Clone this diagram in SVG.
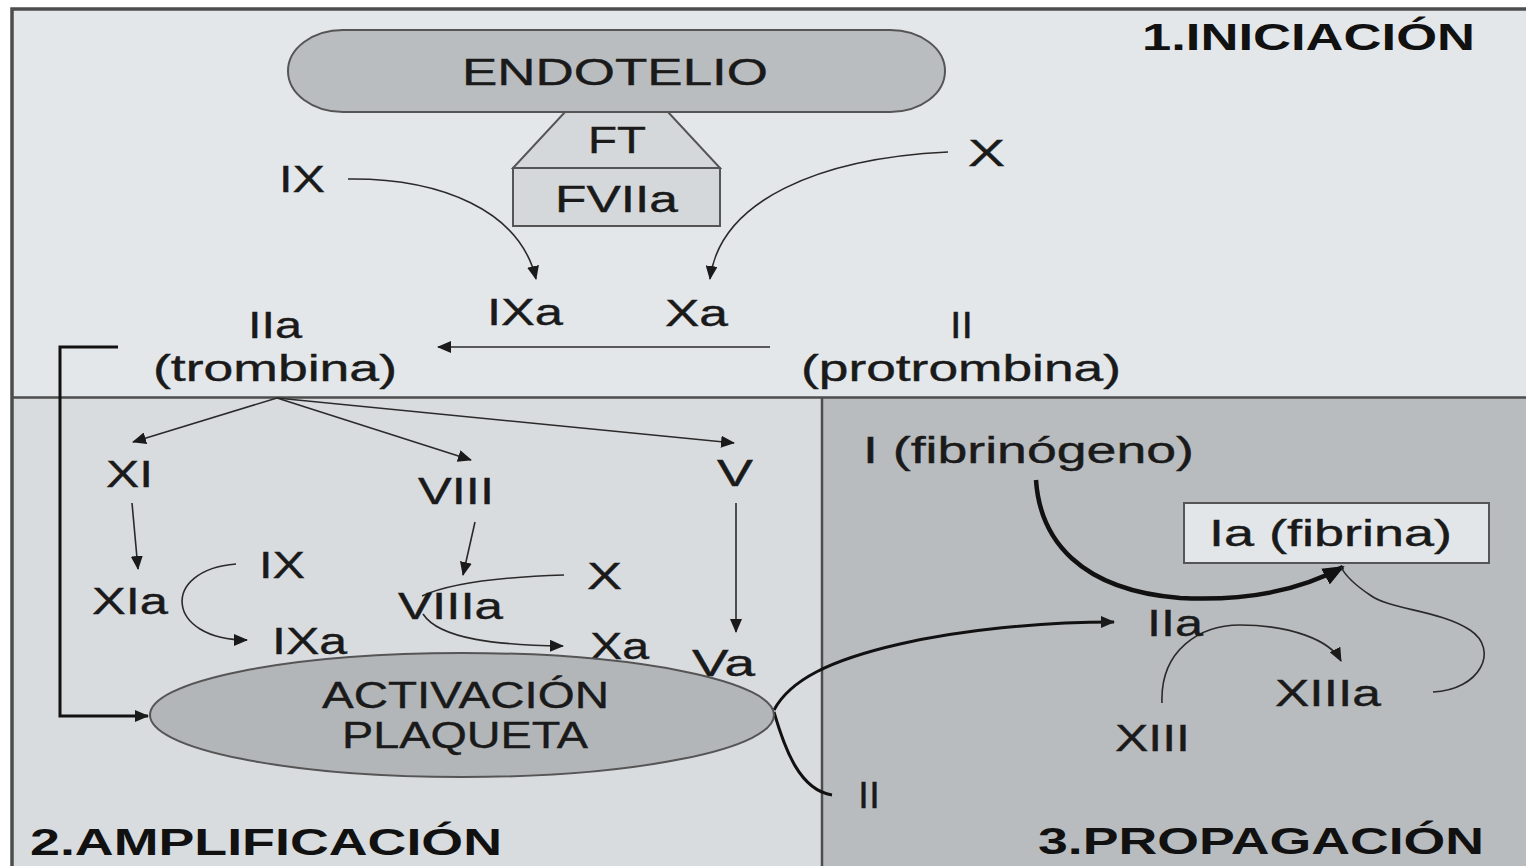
<svg xmlns="http://www.w3.org/2000/svg" width="1526" height="866" viewBox="0 0 1526 866">
<defs>
<style>
text{font-family:"Liberation Sans",Arial,sans-serif;font-size:37px;fill:#1a1a1a;stroke:#1a1a1a;stroke-width:0.4}
.h{font-weight:bold;font-size:36px;fill:#111;stroke:none}
.c{fill:none;stroke:#2a2a2a;stroke-width:1.6}
.k{fill:none;stroke:#111;stroke-width:3.5}
.sh{stroke:#555;stroke-width:2}
</style>
<marker id="a" markerUnits="userSpaceOnUse" markerWidth="14" markerHeight="12" refX="13" refY="6" orient="auto"><path d="M0,0 L14,6 L0,12 z" fill="#1a1a1a"/></marker>
<marker id="b" markerUnits="userSpaceOnUse" markerWidth="22" markerHeight="18" refX="20" refY="9" orient="auto"><path d="M0,0 L22,9 L0,18 z" fill="#111"/></marker>
</defs>
<g id="background">
<rect x="11" y="8" width="1520" height="390" fill="#e4e7ea"/>
<rect x="11" y="398" width="811" height="470" fill="#d9dcdf"/>
<rect x="822" y="398" width="710" height="470" fill="#b9bcbf"/>
<path d="M12,870 V9 H1530" fill="none" stroke="#4d4d4d" stroke-width="3.5"/>
<path d="M11,397.5 H1526 M822,398 V866" fill="none" stroke="#4d4d4d" stroke-width="2.5"/>
</g>
<g id="connectors">
<path class="c" d="M348,179 C440,178 520,210 536,279" marker-end="url(#a)"/>
<path class="c" d="M948,152 C820,158 720,200 710,279" marker-end="url(#a)"/>
<path class="c" d="M770,347 L438,347" marker-end="url(#a)"/>
<path class="k" style="stroke-width:3" d="M118,347 H60 V716 H148" marker-end="url(#a)"/>
<path class="c" d="M277,398 L133,442" marker-end="url(#a)"/>
<path class="c" d="M277,398 L471,460" marker-end="url(#a)"/>
<path class="c" d="M277,398 L734,443" marker-end="url(#a)"/>
<path class="c" d="M132,503 L138,569" marker-end="url(#a)"/>
<path class="c" d="M475,522 L463,575" marker-end="url(#a)"/>
<path class="c" d="M736,503 L736,632" marker-end="url(#a)"/>
<path class="c" d="M236,564 C160,570 165,640 247,640" marker-end="url(#a)"/>
<path class="c" d="M564,575 C500,577 450,583 422,596"/>
<path class="c" d="M423,614 C440,640 500,645 563,646" marker-end="url(#a)"/>
<path class="k" style="stroke-width:3" d="M774,710 C790,680 830,660 900,644 C960,630 1040,622 1114,622" marker-end="url(#a)"/>
<path class="k" style="stroke-width:3" d="M774,712 C785,750 800,790 832,795"/>
<path class="k" style="stroke-width:4.5" d="M1036,480 C1040,540 1080,590 1180,598 C1260,602 1310,585 1343,567" marker-end="url(#b)"/>
<path class="c" d="M1162,703 C1160,650 1200,625 1240,625 C1290,625 1330,640 1341,661" marker-end="url(#a)"/>
<path class="c" d="M1433,692 C1480,690 1500,650 1470,630 C1440,610 1390,610 1370,595 C1355,585 1345,575 1341,567"/>
</g>
<g id="endotelio">
<rect x="288" y="30" width="657" height="82" rx="55" ry="41" fill="#babdc0" class="sh"/>
<text x="462" y="85" textLength="306" lengthAdjust="spacingAndGlyphs">ENDOTELIO</text>
</g>
<g id="ft">
<path d="M565,112 L668,112 L720,168 L513,168 z" fill="#d5d8db" class="sh"/>
<text x="588" y="153" textLength="58" lengthAdjust="spacingAndGlyphs">FT</text>
</g>
<g id="fviia">
<rect x="513" y="168" width="207" height="58" fill="#d5d8db" class="sh"/>
<text x="555" y="212" textLength="123" lengthAdjust="spacingAndGlyphs">FVIIa</text>
</g>
<g id="title1"><text class="h" x="1142" y="50" textLength="333" lengthAdjust="spacingAndGlyphs">1.INICIACIÓN</text></g>
<g id="ix1"><text x="279" y="192" textLength="46" lengthAdjust="spacingAndGlyphs">IX</text></g>
<g id="x1"><text x="968" y="166" textLength="37" lengthAdjust="spacingAndGlyphs">X</text></g>
<g id="ixa1"><text x="487" y="325" textLength="76" lengthAdjust="spacingAndGlyphs">IXa</text></g>
<g id="xa1"><text x="665" y="326" textLength="63" lengthAdjust="spacingAndGlyphs">Xa</text></g>
<g id="iia1">
<text x="248" y="338" textLength="54" lengthAdjust="spacingAndGlyphs">IIa</text>
<text x="153" y="381" textLength="244" lengthAdjust="spacingAndGlyphs">(trombina)</text>
</g>
<g id="ii1">
<text x="950" y="338" textLength="23" lengthAdjust="spacingAndGlyphs">II</text>
<text x="801" y="381" textLength="320" lengthAdjust="spacingAndGlyphs">(protrombina)</text>
</g>
<g id="xi"><text x="106" y="487" textLength="47" lengthAdjust="spacingAndGlyphs">XI</text></g>
<g id="viii"><text x="418" y="504" textLength="76" lengthAdjust="spacingAndGlyphs">VIII</text></g>
<g id="v"><text x="717" y="486" textLength="36" lengthAdjust="spacingAndGlyphs">V</text></g>
<g id="xia"><text x="92" y="614" textLength="76" lengthAdjust="spacingAndGlyphs">XIa</text></g>
<g id="ix2"><text x="259" y="578" textLength="46" lengthAdjust="spacingAndGlyphs">IX</text></g>
<g id="viiia"><text x="398" y="619" textLength="105" lengthAdjust="spacingAndGlyphs">VIIIa</text></g>
<g id="x2"><text x="587" y="589" textLength="35" lengthAdjust="spacingAndGlyphs">X</text></g>
<g id="ixa2"><text x="272" y="654" textLength="75" lengthAdjust="spacingAndGlyphs">IXa</text></g>
<g id="xa2"><text x="590" y="659" textLength="59" lengthAdjust="spacingAndGlyphs">Xa</text></g>
<g id="va"><text x="692" y="676" textLength="63" lengthAdjust="spacingAndGlyphs">Va</text></g>
<g id="plaqueta">
<ellipse cx="462" cy="715" rx="312" ry="62" fill="#b3b6b9" stroke="#555" stroke-width="2"/>
<text x="322" y="708" textLength="287" lengthAdjust="spacingAndGlyphs">ACTIVACIÓN</text>
<text x="342" y="748" textLength="246" lengthAdjust="spacingAndGlyphs">PLAQUETA</text>
</g>
<g id="title2"><text class="h" x="30" y="855" textLength="472" lengthAdjust="spacingAndGlyphs">2.AMPLIFICACIÓN</text></g>
<g id="fibrinogeno"><text x="863" y="463" textLength="331" lengthAdjust="spacingAndGlyphs">I (fibrinógeno)</text></g>
<g id="fibrina">
<rect x="1184" y="503" width="305" height="60" fill="#e3e6e9" stroke="#555" stroke-width="2"/>
<text x="1209" y="546" textLength="243" lengthAdjust="spacingAndGlyphs">Ia (fibrina)</text>
</g>
<g id="iia2"><text x="1147" y="636" textLength="56" lengthAdjust="spacingAndGlyphs">IIa</text></g>
<g id="xiiia"><text x="1275" y="706" textLength="106" lengthAdjust="spacingAndGlyphs">XIIIa</text></g>
<g id="xiii"><text x="1115" y="751" textLength="75" lengthAdjust="spacingAndGlyphs">XIII</text></g>
<g id="ii2"><text x="858" y="808" textLength="22" lengthAdjust="spacingAndGlyphs">II</text></g>
<g id="title3"><text class="h" x="1038" y="854" textLength="446" lengthAdjust="spacingAndGlyphs">3.PROPAGACIÓN</text></g>
</svg>
